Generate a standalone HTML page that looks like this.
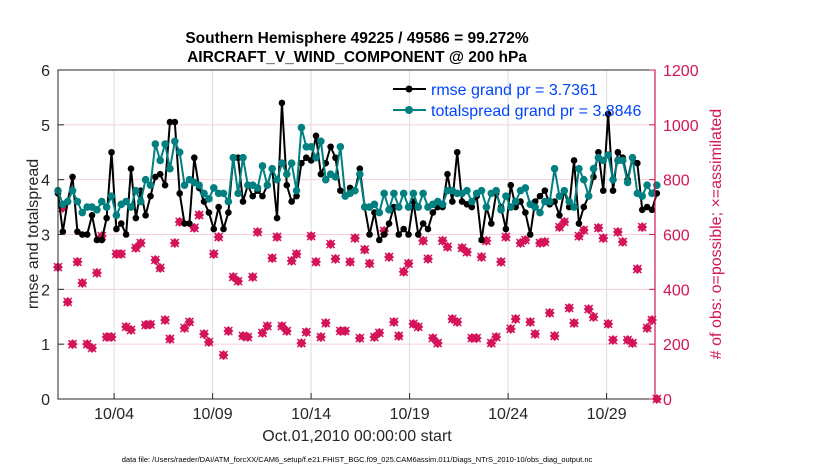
<!DOCTYPE html>
<html><head><meta charset="utf-8">
<style>
body{margin:0;background:#fff;}
svg{display:block;font-family:"Liberation Sans",Arial,sans-serif;}
</style></head>
<body>
<svg id="chart" width="830" height="470" viewBox="0 0 830 470">
<rect x="0" y="0" width="830" height="470" fill="#fff"/>
<g id="grid"></g>
<g id="series"></g>
<rect x="58" y="70" width="597" height="329" fill="none" stroke="#262626" stroke-width="1"/>
<line x1="655" y1="70" x2="655" y2="399" stroke="#d4145a" stroke-width="1.2"/>
<g id="axes"></g>
<text x="357" y="43" text-anchor="middle" font-size="15.5" font-weight="bold">Southern Hemisphere 49225 / 49586 = 99.272%</text>
<text x="357" y="62" text-anchor="middle" font-size="15.5" font-weight="bold">AIRCRAFT_V_WIND_COMPONENT @ 200 hPa</text>
<text transform="translate(38,234) rotate(-90)" text-anchor="middle" font-size="16" fill="#262626">rmse and totalspread</text>
<text transform="translate(721,234) rotate(-90)" text-anchor="middle" font-size="16" fill="#d4145a"># of obs: o=possible; ×=assimilated</text>
<text x="357" y="441" text-anchor="middle" font-size="16" fill="#262626">Oct.01,2010 00:00:00 start</text>
<text x="357" y="462" text-anchor="middle" font-size="7.5" fill="#000">data file: /Users/raeder/DAI/ATM_forcXX/CAM6_setup/f.e21.FHIST_BGC.f09_025.CAM6assim.011/Diags_NTrS_2010-10/obs_diag_output.nc</text>
<g>
  <line x1="393" y1="89" x2="426" y2="89" stroke="#000" stroke-width="2"/>
  <circle cx="409" cy="89" r="3.5" fill="#000"/>
  <text x="431" y="95" font-size="16" fill="#0044ff">rmse grand pr = 3.7361</text>
  <line x1="393" y1="110" x2="426" y2="110" stroke="#008080" stroke-width="2"/>
  <circle cx="409" cy="110" r="4" fill="#008080"/>
  <text x="431" y="116" font-size="16" fill="#0044ff">totalspread grand pr = 3.8846</text>
</g>
</svg>
<script>
const rmse = [3.75,3.05,3.6,4.05,3.05,3.0,3.0,3.35,2.9,2.9,3.3,4.5,3.1,3.2,3.0,4.2,3.3,3.8,3.35,3.7,4.05,4.1,3.9,5.05,5.05,3.75,3.2,3.2,4.4,3.85,
3.6,3.4,3.1,3.5,3.1,3.4,4.4,4.4,3.6,3.9,3.7,3.8,3.7,3.9,4.2,3.3,5.4,3.9,3.6,3.7,4.3,4.4,4.35,4.8,4.1,4.3,4.6,4.4,3.8,3.7,
3.85,3.8,4.2,3.5,3.0,3.4,2.9,3.0,3.2,3.5,3.0,3.1,3.0,3.6,3.0,3.2,3.1,3.4,3.5,3.5,4.1,3.6,4.5,3.6,3.55,3.5,3.7,2.9,3.5,3.2,
3.75,3.5,3.1,3.9,3.5,3.6,3.4,3.0,3.6,3.7,3.8,3.55,3.6,3.35,3.8,3.5,4.35,3.2,3.5,3.7,4.05,4.5,3.8,5.2,3.8,4.5,4.4,4.0,4.4,4.3,3.45,3.5,3.45,3.75];
const spread = [3.8,3.55,3.6,3.8,3.6,3.4,3.5,3.5,3.45,3.6,3.5,3.7,3.35,3.55,3.6,3.5,3.8,3.6,4.0,3.9,4.65,4.35,4.65,4.2,4.7,4.5,3.9,4.0,3.95,3.9,
3.75,3.65,3.85,3.75,3.75,3.6,4.4,3.75,4.4,3.9,3.9,3.85,4.25,3.9,4.2,4.0,4.3,4.1,4.3,3.8,4.95,4.6,4.6,4.4,4.7,4.0,4.1,4.05,4.6,3.7,
3.75,3.8,4.1,3.5,3.5,3.55,3.4,3.75,3.45,3.75,3.5,3.75,3.5,3.75,3.5,3.75,3.5,3.55,3.6,3.55,3.8,3.8,3.75,3.75,3.8,3.6,3.75,3.8,3.5,3.75,
3.8,3.45,3.7,3.5,3.6,3.8,3.85,3.55,3.5,3.4,3.6,3.6,4.2,3.7,3.8,3.6,3.5,4.2,4.0,3.7,4.2,4.4,4.35,4.45,4.0,4.35,4.35,3.95,4.4,3.75,3.7,3.9,3.75,3.9];
const obsCount = [481,697,354,200,500,423,200,186,460,594,226,226,529,529,263,252,551,569,270,272,507,478,288,219,569,646,259,281,624,671,237,208,
529,591,160,248,445,430,230,226,445,609,241,266,514,591,266,248,504,529,204,244,594,500,226,277,565,511,248,248,500,587,222,
545,494,226,241,613,518,281,230,464,494,274,263,577,511,222,204,577,555,292,281,551,536,222,222,518,577,204,226,500,591,
256,292,569,580,281,237,569,573,314,230,627,646,332,277,594,616,328,299,624,587,274,215,609,573,215,204,474,627,259,288,0];
const xTickDays = [3,8,13,18,23,28];
const xTickLabels = ["10/04","10/09","10/14","10/19","10/24","10/29"];
const yTicks = [0,1,2,3,4,5,6];
const y2Ticks = [0,200,400,600,800,1000,1200];

const NS="http://www.w3.org/2000/svg";
const X0=55, DAYPX=19.7, T0=0.15, T1=30.55;
const xS = t => X0 + t*DAYPX;
const yS = v => 399 - v*(329/6);
const y2S = v => 399 - v*(329/1200);
function mk(tag, attrs, parent){const e=document.createElementNS(NS,tag);for(const k in attrs)e.setAttribute(k,attrs[k]);parent.appendChild(e);return e;}
const grid=document.getElementById('grid'), ser=document.getElementById('series'), axes=document.getElementById('axes');

y2Ticks.forEach((v,i)=>{
  if(v>0 && v<1200){const l=mk('line',{x1:58,x2:655,y1:y2S(v),y2:y2S(v),stroke:'#f6cfdc','stroke-width':1},grid);
  
  }
  const t=mk('text',{x:663,y:y2S(v)+6,'font-size':16,fill:'#d4145a'},axes);t.textContent=v;
  
  
  mk('line',{x1:649,x2:655,y1:y2S(v),y2:y2S(v),stroke:'#d4145a'},axes);
});
yTicks.forEach(v=>{
  const t=mk('text',{x:50,y:yS(v)+6,'font-size':16,'text-anchor':'end',fill:'#262626'},axes);t.textContent=v;
  
  
  mk('line',{x1:58,x2:64,y1:yS(v),y2:yS(v),stroke:'#262626'},axes);
});
xTickDays.forEach((d,i)=>{
  const l=mk('line',{x1:xS(d),x2:xS(d),y1:70,y2:399,stroke:'#dcdcdc','stroke-width':1},grid);
  
  
  mk('line',{x1:xS(d),x2:xS(d),y1:393,y2:399,stroke:'#262626'},axes);
  const t=mk('text',{x:xS(d),y:419,'font-size':16,'text-anchor':'middle',fill:'#262626'},axes);t.textContent=xTickLabels[i];
  
  
});
function tOf(k,n){return T0 + k*(T1-T0)/(n-1);}

obsCount.forEach((v,k)=>{
  const x=xS(tOf(k,obsCount.length)), y=y2S(v);
  const g=mk('g',{},ser);
  
  
  mk('path',{d:`M${x-5},${y}L${x},${y-5}L${x+5},${y}L${x},${y+5}Z`,fill:'#d4145a'},g);
  mk('path',{d:`M${x-4},${y-4}L${x+4},${y+4}M${x-4},${y+4}L${x+4},${y-4}`,stroke:'#d4145a','stroke-width':1.5},g);
});
function drawSeries(arr,color,r,name){
  const pts=arr.map((v,k)=>[xS(tOf(k,arr.length)),yS(v)]);
  const p=mk('polyline',{points:pts.map(p=>p.join(',')).join(' '),fill:'none',stroke:color,'stroke-width':2,'stroke-linejoin':'round'},ser);
  
  
  pts.forEach(q=>{const c=mk('circle',{cx:q[0],cy:q[1],r:r,fill:color},ser);
    
    });
}
drawSeries(rmse,'#000',3.3,'rmse');
drawSeries(spread,'#008080',3.8,'totalspread');
</script>
</body></html>
